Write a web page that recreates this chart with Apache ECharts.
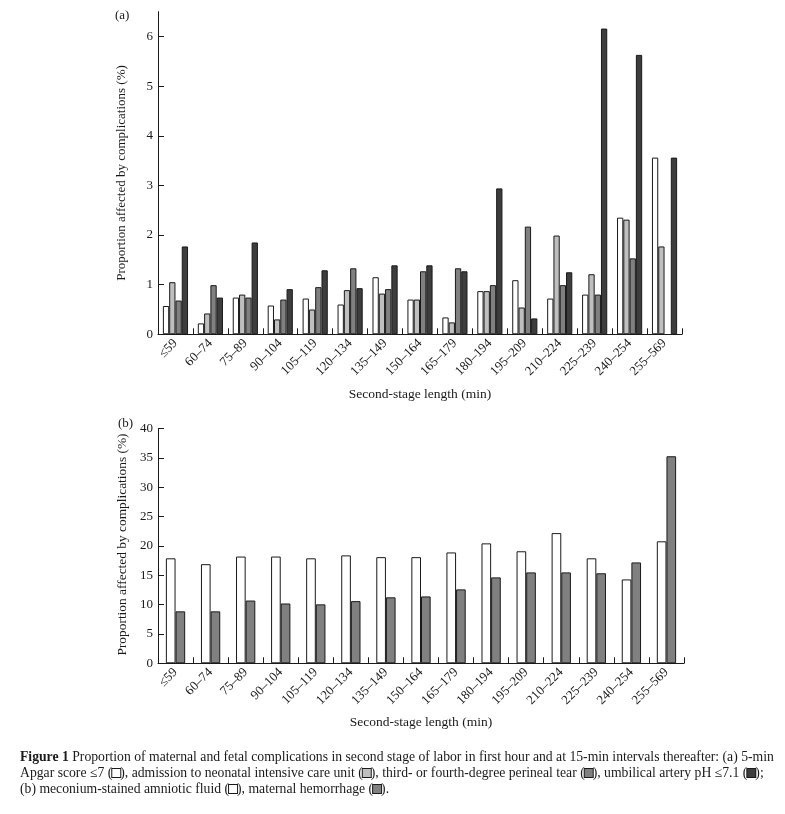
<!DOCTYPE html>
<html>
<head>
<meta charset="utf-8">
<script src="https://cdn.jsdelivr.net/npm/echarts@6/dist/echarts.min.js"></script>
<style>
html,body{margin:0;padding:0;background:#fff;}
#chart{width:785px;height:814px;}
</style>
</head>
<body>
<div id="chart"></div>
<script>
var categories = ['≤59','60–74','75–89','90–104','105–119','120–134','135–149','150–164','165–179','180–194','195–209','210–224','225–239','240–254','255–569'];

// Panel (a)
var apgar    = [0.57,0.22,0.74,0.58,0.72,0.60,1.15,0.70,0.34,0.87,1.09,0.72,0.80,2.35,3.56];
var nicu     = [1.05,0.42,0.80,0.30,0.50,0.89,0.82,0.70,0.24,0.87,0.54,1.99,1.21,2.31,1.77];
var perineal = [0.68,0.99,0.74,0.70,0.95,1.33,0.91,1.27,1.33,0.99,2.17,0.99,0.80,1.53,null];
var ph       = [1.77,0.74,1.85,0.91,1.29,0.93,1.39,1.39,1.27,2.94,0.32,1.25,6.16,5.63,3.56];

// Panel (b)
var meconium   = [17.9,16.9,18.2,18.2,17.9,18.4,18.1,18.1,18.9,20.45,19.1,22.2,17.9,14.3,20.8];
var hemorrhage = [8.86,8.86,10.7,10.2,10.05,10.6,11.25,11.4,12.6,14.65,15.5,15.5,15.35,17.2,35.3];

var ticksA = [0,1,2,3,4,5,6];
var ticksB = [0,5,10,15,20,25,30,35,40];

var FONT = '"Liberation Serif", "DejaVu Serif", serif';
var TXT = '#1a1a1a';
var C_WHITE = '#ffffff', C_LIGHT = '#bfbfbf', C_MID = '#808080', C_DARK = '#3d3d3d';
var BORDER = '#1a1a1a';

var GA = {left: 158, right: 103, top: 11.7, bottom: 479.7};
var GB = {left: 158, right: 101, top: 428.7, bottom: 150.7};
var W = 785, H = 814;
var GA_W = W - GA.left - GA.right, GA_H = H - GA.top - GA.bottom;
var GB_W = W - GB.left - GB.right, GB_H = H - GB.top - GB.bottom;

function xAxisMain(gi, gap) {
  return {
    type: 'category', gridIndex: gi, data: categories, boundaryGap: true,
    axisLine: {lineStyle: {color: BORDER, width: 1}},
    axisTick: {show: false},
    axisLabel: {rotate: 45, interval: 0, margin: 7, fontFamily: FONT, fontSize: 13, color: TXT},
    name: 'Second-stage length (min)', nameLocation: 'middle', nameGap: gap,
    nameTextStyle: {fontFamily: FONT, fontSize: 13.5, color: TXT}
  };
}
// tick-only axis placed on the baseline so its ticks point up into the plot
function xAxisTicks(gi, gh) {
  return {
    type: 'category', gridIndex: gi, data: categories, boundaryGap: true,
    position: 'top', offset: -gh,
    axisLine: {show: false},
    axisLabel: {show: false},
    axisTick: {show: true, length: 6, interval: 0, lineStyle: {color: BORDER}}
  };
}
function yAxisMain(gi, max, interval, ticks, gap, fs, pad) {
  return {
    type: 'value', gridIndex: gi, min: 0, max: max, interval: interval,
    splitLine: {show: false},
    axisLine: {show: true, lineStyle: {color: BORDER, width: 1}},
    axisTick: {show: false},
    axisLabel: {margin: 5, customValues: ticks, fontFamily: FONT, fontSize: 13, color: TXT},
    name: 'Proportion affected by complications (%)', nameLocation: 'middle', nameGap: gap,
    nameTextStyle: {fontFamily: FONT, fontSize: fs, color: TXT, padding: pad}
  };
}
// tick-only axis placed on the left edge so its ticks point right into the plot
function yAxisTicks(gi, max, interval, ticks, gw) {
  return {
    type: 'value', gridIndex: gi, min: 0, max: max, interval: interval,
    position: 'right', offset: -gw,
    splitLine: {show: false},
    axisLine: {show: false},
    axisLabel: {show: false},
    axisTick: {show: true, length: 6, customValues: ticks, lineStyle: {color: BORDER}}
  };
}

function bar(name, data, color, xi, gapCat) {
  var s = {
    name: name, type: 'bar', xAxisIndex: xi, yAxisIndex: xi, data: data,
    barGap: '0%',
    itemStyle: {color: color, borderColor: BORDER, borderWidth: 1},
    animation: false, silent: true
  };
  if (gapCat) s.barCategoryGap = gapCat;
  return s;
}

var chart = echarts.init(document.getElementById('chart'), null, {renderer: 'canvas'});
chart.setOption({
  backgroundColor: '#fff',
  animation: false,
  grid: [GA, GB],
  xAxis: [xAxisMain(0, 53), xAxisMain(1, 52), xAxisTicks(0, GA_H), xAxisTicks(1, GB_H)],
  yAxis: [
    yAxisMain(0, 6.5, 1, ticksA, 30, 13, [0, 0, 0, 0]),
    yAxisMain(1, 40, 5, ticksB, 28, 13.4, [0, 0, 0, 3]),
    yAxisTicks(0, 6.5, 1, ticksA, GA_W),
    yAxisTicks(1, 40, 5, ticksB, GB_W)
  ],
  series: [
    bar('5-min Apgar score ≤7', apgar, C_WHITE, 0, '28%'),
    bar('Admission to NICU', nicu, C_LIGHT, 0),
    bar('Third- or fourth-degree perineal tear', perineal, C_MID, 0),
    bar('Umbilical artery pH ≤7.1', ph, C_DARK, 0),
    bar('Meconium-stained amniotic fluid', meconium, C_WHITE, 1, '45%'),
    bar('Maternal hemorrhage', hemorrhage, C_MID, 1)
  ],
  graphic: [
    {type: 'text', left: 115, top: 9, style: {text: '(a)', font: '13px ' + FONT, fill: TXT}},
    {type: 'text', left: 118, top: 417, style: {text: '(b)', font: '13px ' + FONT, fill: TXT}},
    {type: 'text', left: 20, top: 749, style: {
      text: '{b|Figure 1} Proportion of maternal and fetal complications in second stage of labor in first hour and at 15-min intervals thereafter: (a) 5-min\n' +
            'Apgar score ≤7 ({w| }), admission to neonatal intensive care unit ({l| }), third- or fourth-degree perineal tear ({m| }), umbilical artery pH ≤7.1 ({d| });\n' +
            '(b) meconium-stained amniotic fluid ({w| }), maternal hemorrhage ({m| }).',
      font: '13.7px ' + FONT, fill: TXT, lineHeight: 16,
      rich: {
        b: {fontWeight: 'bold', fontFamily: FONT, fontSize: 13.7, fill: TXT, lineHeight: 16},
        w: {width: 8, height: 8, backgroundColor: C_WHITE, borderColor: BORDER, borderWidth: 1, lineHeight: 16},
        l: {width: 8, height: 8, backgroundColor: C_LIGHT, borderColor: BORDER, borderWidth: 1, lineHeight: 16},
        m: {width: 8, height: 8, backgroundColor: C_MID, borderColor: BORDER, borderWidth: 1, lineHeight: 16},
        d: {width: 8, height: 8, backgroundColor: C_DARK, borderColor: BORDER, borderWidth: 1, lineHeight: 16}
      }
    }}
  ]
});
</script>
</body>
</html>
